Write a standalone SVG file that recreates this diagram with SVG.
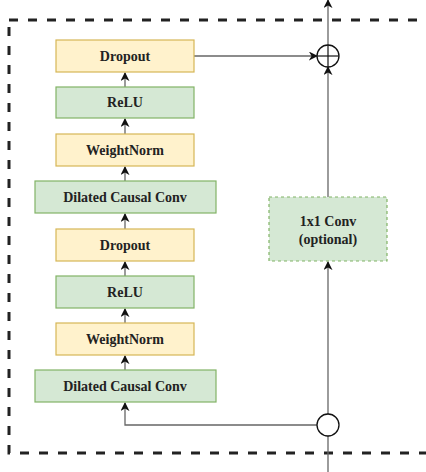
<svg xmlns="http://www.w3.org/2000/svg" width="426" height="472" viewBox="0 0 426 472">
<style>
.y{fill:#fff2cc;stroke:#d6b656;stroke-width:1.2}
.g{fill:#d5e8d4;stroke:#82b366;stroke-width:1.2}
.t{font-family:"Liberation Serif",serif;font-weight:bold;font-size:14px;fill:#222;text-anchor:middle}
.c{fill:none;stroke:#666;stroke-width:1.3}
</style>
<defs>
<marker id="a" viewBox="0 0 10 10" refX="9" refY="5" markerWidth="9" markerHeight="9" markerUnits="userSpaceOnUse" orient="auto">
<path d="M0,0 L10,5 L0,10 L3,5 Z" fill="#111"/>
</marker>
</defs>
<rect x="9" y="20" width="430" height="433" fill="none" stroke="#222" stroke-width="3" stroke-dasharray="9 10"/>
<g id="connectors">
<line class="c" x1="125" y1="87" x2="125" y2="73" marker-end="url(#a)"/>
<line class="c" x1="125" y1="134" x2="125" y2="119" marker-end="url(#a)"/>
<line class="c" x1="125" y1="181" x2="125" y2="167" marker-end="url(#a)"/>
<line class="c" x1="125" y1="229" x2="125" y2="214" marker-end="url(#a)"/>
<line class="c" x1="125" y1="276" x2="125" y2="262" marker-end="url(#a)"/>
<line class="c" x1="125" y1="323" x2="125" y2="309" marker-end="url(#a)"/>
<line class="c" x1="125" y1="370" x2="125" y2="356" marker-end="url(#a)"/>
<polyline class="c" points="317,425 125,425 125,403" marker-end="url(#a)"/>
<line class="c" x1="328" y1="472" x2="328" y2="414" marker-end="url(#a)"/>
<line class="c" x1="328" y1="414" x2="328" y2="262" marker-end="url(#a)"/>
<line class="c" x1="328" y1="197" x2="328" y2="67" marker-end="url(#a)"/>
<line class="c" x1="194" y1="56" x2="317" y2="56" marker-end="url(#a)"/>
<line class="c" x1="328" y1="45" x2="328" y2="0" marker-end="url(#a)"/>
</g>
<g id="dropout1"><rect class="y" x="56" y="40" width="138" height="32"/><text class="t" x="125" y="61">Dropout</text></g>
<g id="relu1"><rect class="g" x="56" y="87" width="138" height="31"/><text class="t" x="125" y="107">ReLU</text></g>
<g id="weightnorm1"><rect class="y" x="56" y="134" width="138" height="32"/><text class="t" x="125" y="155">WeightNorm</text></g>
<g id="dilated1"><rect class="g" x="35" y="181" width="181" height="32"/><text class="t" x="125" y="202">Dilated Causal Conv</text></g>
<g id="dropout2"><rect class="y" x="56" y="229" width="138" height="32"/><text class="t" x="125" y="250">Dropout</text></g>
<g id="relu2"><rect class="g" x="56" y="276" width="138" height="32"/><text class="t" x="125" y="297">ReLU</text></g>
<g id="weightnorm2"><rect class="y" x="56" y="323" width="138" height="32"/><text class="t" x="125" y="344">WeightNorm</text></g>
<g id="dilated2"><rect class="g" x="35" y="370" width="181" height="32"/><text class="t" x="125" y="391">Dilated Causal Conv</text></g>
<g id="conv1x1"><rect class="g" x="269" y="197" width="118" height="64" stroke-dasharray="3 3"/><text class="t" x="328" y="226">1x1 Conv</text><text class="t" x="328" y="244">(optional)</text></g>
<g id="sum"><circle cx="328" cy="56" r="11" fill="#fff" stroke="#111" stroke-width="1.3"/><line x1="317" y1="56" x2="339" y2="56" stroke="#111" stroke-width="1.2"/><line x1="328" y1="45" x2="328" y2="67" stroke="#111" stroke-width="1.2"/></g>
<g id="split"><circle cx="328" cy="425" r="11" fill="#fff" stroke="#111" stroke-width="1.3"/></g>
</svg>
